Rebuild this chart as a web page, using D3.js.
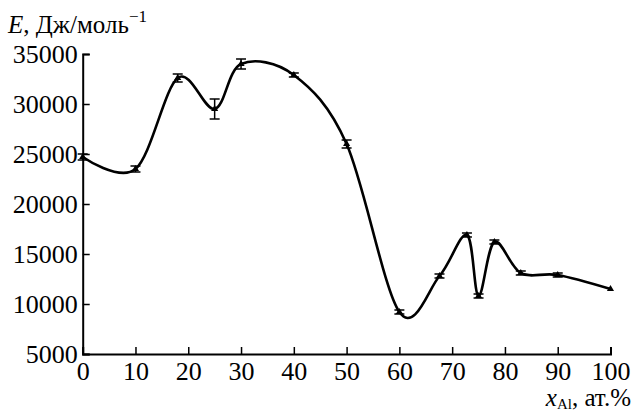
<!DOCTYPE html>
<html>
<head>
<meta charset="utf-8">
<script src="https://cdn.jsdelivr.net/npm/d3@7"></script>
</head>
<body style="margin:0">
<script>
// data
var xAl = [0, 10, 18, 25, 30, 40, 50, 60, 67.6, 72.8, 75, 78, 83, 90, 100];
var energy = [24700, 23500, 32600, 29500, 34000, 32900, 26000, 9200, 12800, 16900, 10800, 16200, 13100, 12900, 11500];
var errs = [300, 300, 400, 1000, 500, 200, 400, 200, 200, 200, 200, 200, 200, 200, 0];
var xTicks = [0, 10, 20, 30, 40, 50, 60, 70, 80, 90, 100];
var yTicks = [5000, 10000, 15000, 20000, 25000, 30000, 35000];

var width = 633, height = 412;

var svg = d3.select("body").append("svg")
    .attr("width", width)
    .attr("height", height)
    .attr("font-family", "serif");

var x = d3.scaleLinear().domain([0, 100]).range([82.7, 610.5]);
var y = d3.scaleLinear().domain([5000, 35000]).range([354, 54]);

var points = xAl.map(function(d, i) { return {x: d, e: energy[i], err: errs[i]}; });

// axes
var xAxis = d3.axisBottom(x).tickValues(xTicks).tickSize(-7).tickPadding(8);
var yAxis = d3.axisLeft(y).tickValues(yTicks).tickSize(-7).tickPadding(5)
    .tickFormat(d3.format("d"));

var gx = svg.append("g").attr("transform", "translate(0," + y(5000) + ")").call(xAxis);
var gy = svg.append("g").attr("transform", "translate(" + x(0) + ",0)").call(yAxis);

[gx, gy].forEach(function(g) {
  g.attr("font-family", "serif").attr("font-size", 26);
  g.select(".domain").attr("stroke", "#000").attr("stroke-width", 2);
  g.selectAll(".tick line").attr("stroke", "#000").attr("stroke-width", 1.5);
  g.selectAll(".tick text")
      .attr("fill", "#000")
      .attr("font-family", "serif")
      .attr("font-size", 26);
});
gx.selectAll(".tick text").attr("dy", "0.71em");
gy.selectAll(".tick text").attr("dy", "0.33em");

// curve
var line = d3.line()
    .x(function(d) { return x(d.x); })
    .y(function(d) { return y(d.e); })
    .curve(d3.curveCatmullRom.alpha(0));

svg.append("path")
    .datum(points)
    .attr("fill", "none")
    .attr("stroke", "#000")
    .attr("stroke-width", 2.6)
    .attr("d", line);

// error bars
var eb = svg.append("g").attr("stroke", "#000").attr("stroke-width", 1.5);
points.filter(function(d) { return d.err > 0; }).forEach(function(d) {
  var cx = x(d.x);
  eb.append("line").attr("x1", cx).attr("x2", cx).attr("y1", y(d.e - d.err)).attr("y2", y(d.e + d.err));
  eb.append("line").attr("x1", cx - 5).attr("x2", cx + 5).attr("y1", y(d.e - d.err)).attr("y2", y(d.e - d.err));
  eb.append("line").attr("x1", cx - 5).attr("x2", cx + 5).attr("y1", y(d.e + d.err)).attr("y2", y(d.e + d.err));
});

// markers
svg.append("g").selectAll("path")
    .data(points)
    .enter().append("path")
    .attr("transform", function(d) { return "translate(" + x(d.x) + "," + y(d.e) + ")"; })
    .attr("d", d3.symbol().type(d3.symbolTriangle).size(22))
    .attr("fill", "#000");

// y label
var yl = svg.append("text").attr("x", 8).attr("y", 33)
    .attr("font-family", "serif").attr("font-size", 25);
yl.append("tspan").attr("font-style", "italic").text("E");
yl.append("tspan").text(", Дж/моль");
yl.append("tspan").attr("dy", -11).attr("font-size", 17).text("−1");

// x label
var xl = svg.append("text").attr("x", 631).attr("y", 406).attr("text-anchor", "end")
    .attr("font-family", "serif").attr("font-size", 25);
xl.append("tspan").attr("font-style", "italic").text("x");
xl.append("tspan").attr("dy", 3).attr("font-size", 15).text("Al");
xl.append("tspan").attr("dy", -3).text(", ат.%");
</script>
</body>
</html>
